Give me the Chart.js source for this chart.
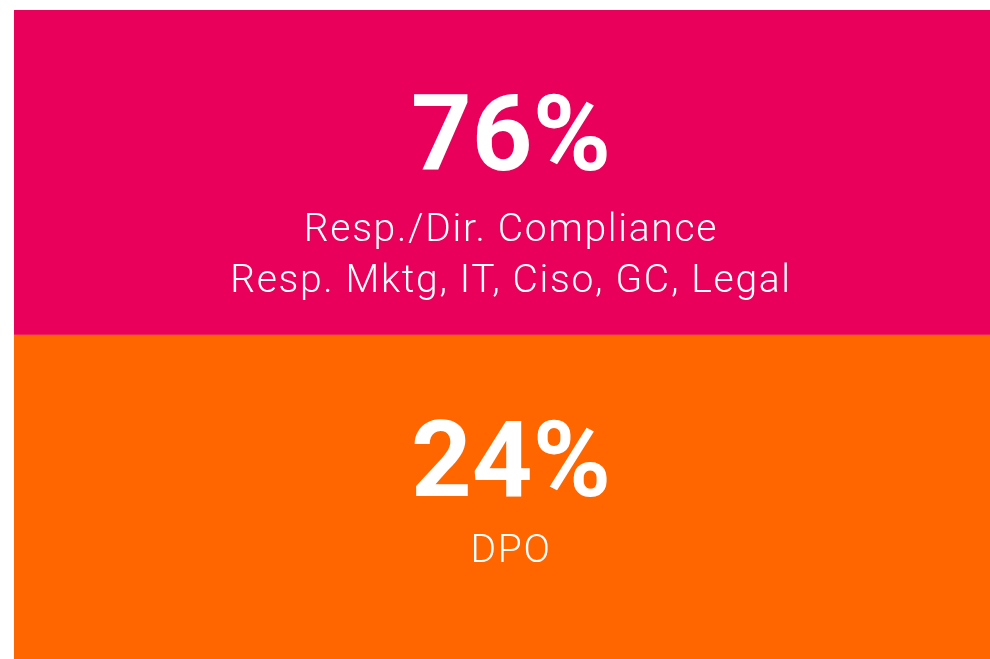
<!DOCTYPE html>
<html><head><meta charset="utf-8">
<script src="https://cdn.jsdelivr.net/npm/chart.js@4"></script>
<style>
html,body{margin:0;padding:0;background:#ffffff;overflow:hidden}
#wrap{position:absolute;left:0;top:0;width:990px;height:659px}
</style>
</head><body>
<div id="wrap"><canvas id="c"></canvas></div>
<script>
// ---- data ----
const categories = ['Resp./Dir. Compliance, Resp. Mktg, IT, Ciso, GC, Legal', 'DPO'];
const percentages = [76, 24];
const roleLines = [
  ['Resp./Dir. Compliance', 'Resp. Mktg, IT, Ciso, GC, Legal'],
  ['DPO']
];
const tileColors = ['#E8005A', '#FF6600'];

// ---- styles / layout (not data) ----
const bigFont = { family: 'Roboto', size: 106, weight: '700', spacing: '0px' };
const smallFont = { family: 'Roboto', size: 39, weight: '300', spacing: '1.7px' };
const textDX = 9;
const rowLayout = [
  { big: -2.25, lines: [68.75, 119.75] },
  { big: -0.75, lines: [65.25] }
];

const datasets = percentages.map((p, i) => ({
  label: categories[i],
  data: categories.map((_, j) => (j === i ? p : null)),
  backgroundColor: tileColors[i],
  borderWidth: 0,
  xAxisID: 'x' + i,
  categoryPercentage: 1,
  barPercentage: 1,
  grouped: false
}));

const scales = { y: { type: 'category', display: false, grid: { display: false } } };
percentages.forEach((p, i) => {
  scales['x' + i] = { type: 'linear', min: 0, max: p, display: false, grid: { display: false } };
});

const tileText = {
  id: 'tileText',
  afterDatasetsDraw(chart) {
    const ctx = chart.ctx;
    ctx.save();
    ctx.fillStyle = '#ffffff';
    ctx.textAlign = 'center';
    ctx.textBaseline = 'alphabetic';
    percentages.forEach((p, i) => {
      const bar = chart.getDatasetMeta(i).data[i];
      const cx = (bar.x + bar.base) / 2 + textDX;
      const cy = bar.y;
      const lay = rowLayout[i];
      ctx.font = `${bigFont.weight} ${bigFont.size}px ${bigFont.family}`;
      if ('letterSpacing' in ctx) ctx.letterSpacing = bigFont.spacing;
      ctx.fillText(p + '%', cx, cy + lay.big);
      ctx.font = `${smallFont.weight} ${smallFont.size}px ${smallFont.family}`;
      if ('letterSpacing' in ctx) ctx.letterSpacing = smallFont.spacing;
      roleLines[i].forEach((t, k) => ctx.fillText(t, cx, cy + lay.lines[k]));
    });
    ctx.restore();
  }
};

new Chart(document.getElementById('c'), {
  type: 'bar',
  data: { labels: categories, datasets },
  options: {
    indexAxis: 'y',
    responsive: true,
    maintainAspectRatio: false,
    animation: false,
    layout: { padding: { left: 14, top: 10, right: 0, bottom: 0 } },
    scales,
    plugins: { legend: { display: false }, tooltip: { enabled: false } }
  },
  plugins: [tileText]
});
</script>
</body></html>
